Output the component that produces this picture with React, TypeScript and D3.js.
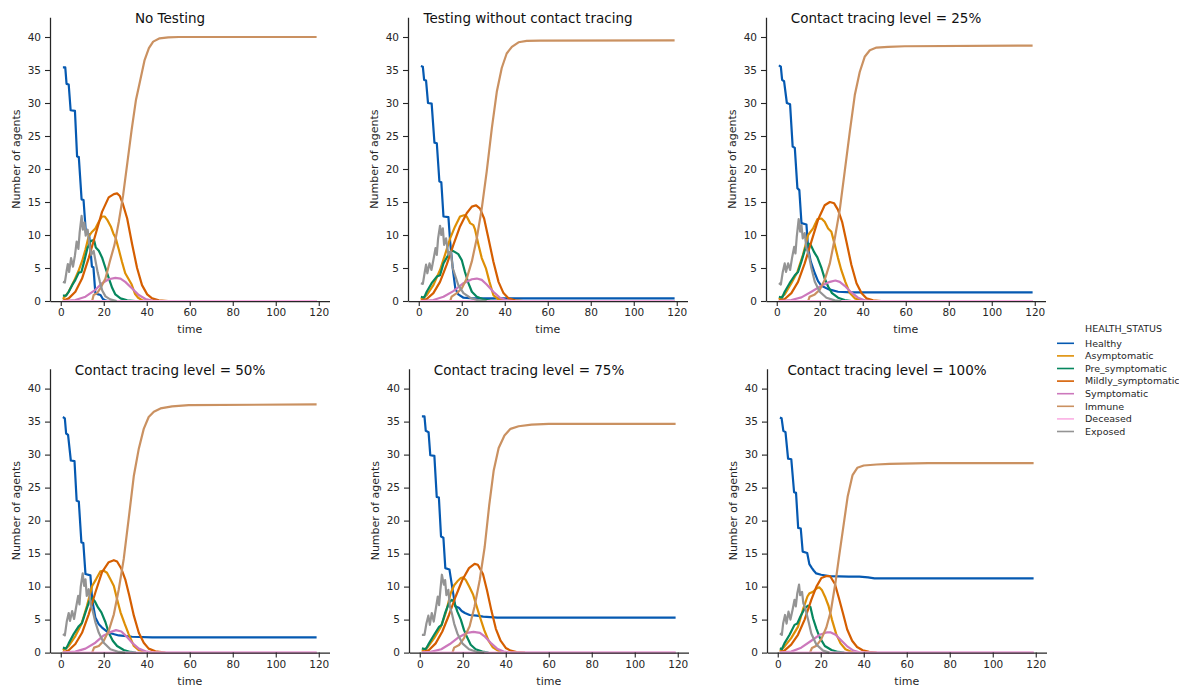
import { useEffect, useRef } from 'react'
import * as d3 from 'd3'

type Pt = [number, number]

// legend order = drawing order
const statuses = [
  'Healthy',
  'Asymptomatic',
  'Pre_symptomatic',
  'Mildly_symptomatic',
  'Symptomatic',
  'Immune',
  'Deceased',
  'Exposed',
]
const statusColors = ['#0559b1', '#de8f05', '#06875e', '#d55e00', '#cc78bc', '#ca9161', '#fbafe4', '#949494']

const panelTitles = [
  'No Testing',
  'Testing without contact tracing',
  'Contact tracing level = 25%',
  'Contact tracing level = 50%',
  'Contact tracing level = 75%',
  'Contact tracing level = 100%',
]
const xTicks = [0, 20, 40, 60, 80, 100, 120]
const yTicks = [0, 5, 10, 15, 20, 25, 30, 35, 40]

// [time, number of agents]
const deceased: Pt[] = [[1, 0], [119, 0]]

// --- No Testing
const noTestHealthy: Pt[] = [[1, 35.4], [2.1, 35.4], [2.7, 32.9], [3.7, 32.8], [4.6, 28.9], [6.6, 28.8], [7.6, 21.9], [8.4, 21.8], [9.7, 15.4], [10.6, 15.3], [11.7, 10.3], [13.2, 10.1], [14.5, 5.2], [15.2, 5.1], [16.1, 1.2], [17.5, 1.0], [18.5, 0.9], [19.6, 0.3], [21, 0.05], [22, 0]]
const noTestAsym: Pt[] = [[1, 0.3], [3.5, 1.3], [6, 2.9], [8.2, 4.5], [10, 6.1], [11.5, 7.8], [13, 9.8], [14.6, 10.5], [16.1, 11], [17.7, 12], [19.2, 12.8], [20.5, 12.8], [21.8, 12.2], [23.4, 11.2], [24.5, 10.2], [25.5, 9.6], [27, 7.8], [28.5, 5.9], [30, 4.2], [31.6, 3.3], [33, 2.5], [34.5, 1.1], [36, 0.5], [38, 0.1], [41, 0]]
const noTestPre: Pt[] = [[1, 0.8], [2.5, 0.8], [3.7, 1.4], [5.3, 2.4], [6.8, 3.2], [8.4, 4.3], [9.6, 4.4], [10.9, 6], [12.4, 8], [13.8, 9], [14.6, 9.2], [15.6, 9.1], [16.3, 8.1], [17.7, 7.6], [19.2, 6.6], [20.8, 5], [22.3, 3.5], [23.9, 2], [25.4, 1.0], [27.8, 0.4], [30.9, 0.1], [34.7, 0]]
const noTestMild: Pt[] = [[1, 0.05], [3.7, 0.4], [6.8, 1.4], [9.9, 3.4], [13, 6.5], [16.1, 10], [19.2, 13.5], [22.3, 15.7], [24.7, 16.2], [26.2, 16.3], [27.5, 15.9], [28.8, 14.8], [30.9, 12.5], [33.2, 8.6], [35.5, 5], [37.8, 2.4], [40.2, 1.0], [42.5, 0.4], [45.6, 0.1], [50, 0]]
const noTestSym: Pt[] = [[1, 0], [6.8, 0.15], [11.5, 0.65], [16.1, 1.7], [19.2, 2.7], [22.3, 3.3], [25.4, 3.5], [27.8, 3.4], [30, 2.9], [33.2, 1.9], [36.3, 0.9], [39.4, 0.3], [42.5, 0.05], [46, 0], [119, 0]]
const noTestImmune: Pt[] = [[14.6, 0], [15.3, 0.9], [16.9, 1.2], [18.4, 1.9], [20.8, 3.4], [23, 6.2], [25, 8.5], [27, 12], [29, 16], [31, 21], [33, 26], [35, 30.5], [37, 33.5], [39, 36.5], [41, 38.3], [43, 39.3], [46, 39.8], [50, 39.95], [55, 40], [119, 40]]
const noTestExposed: Pt[] = [[1, 2.9], [1.9, 2.8], [2.7, 4.5], [3.3, 5.6], [3.9, 4.4], [4.8, 6.5], [5.7, 5.2], [6.6, 6.9], [7.4, 9], [8.2, 7.9], [8.8, 10.4], [9.7, 12.9], [10.3, 10.8], [11, 11.9], [11.6, 9.9], [12.5, 10.8], [13.2, 8.9], [14.2, 7.0], [15.3, 7.6], [16.2, 6.0], [17.2, 4.3], [18.2, 2.9], [19.3, 1.6], [20.8, 0.7], [23, 0.25], [26, 0]]

// --- Testing without contact tracing
const testOnlyHealthy: Pt[] = [[1, 35.6], [1.9, 35.5], [2.5, 33.5], [3.4, 33.4], [4.3, 30], [6, 29.9], [7.3, 24], [8.4, 23.9], [9.6, 18.1], [10.5, 18], [11.5, 12.8], [13.8, 12.7], [14.6, 9], [15.8, 5], [17, 1.9], [18.4, 1], [20.8, 0.5], [25.4, 0.4], [119, 0.4]]
const testOnlyAsym: Pt[] = [[1, 0.25], [3.7, 0.9], [6.8, 2.4], [9.9, 4.7], [12.2, 7], [14.6, 9.5], [16.9, 11.3], [19.2, 12.8], [21.1, 13], [22.3, 12.8], [23.9, 11.8], [25.4, 11.5], [26.2, 10.8], [27.8, 8.5], [29.3, 6.5], [31.3, 4.9], [32.9, 2.9], [34.7, 0.9], [37.1, 0.25], [40.9, 0]]
const testOnlyPre: Pt[] = [[1, 0.65], [2.5, 0.5], [3.7, 1.4], [6, 2.7], [8.4, 3.7], [9.9, 3.9], [11.5, 5.7], [13.8, 7], [15.3, 7.7], [16.9, 7.4], [18.4, 7.1], [20, 6.2], [21.5, 4.4], [23.1, 2.7], [24.7, 1.4], [27, 0.65], [30, 0.25], [33.2, 0.05], [36.3, 0]]
const testOnlyMild: Pt[] = [[1, 0.05], [3.7, 0.3], [6.8, 1.2], [9.9, 2.9], [13, 5.5], [16.1, 8.5], [19.2, 11.3], [22.3, 13.3], [24.7, 14.3], [26.7, 14.5], [28.5, 14], [30.4, 12.5], [32.4, 9.5], [34.7, 6], [37.1, 2.9], [39.4, 1.2], [41.7, 0.4], [44.8, 0.1], [48.7, 0]]
const testOnlySym: Pt[] = [[1, 0], [6.8, 0.15], [11.5, 0.65], [16.1, 1.5], [20.8, 2.7], [24.7, 3.3], [27, 3.4], [29.3, 3.2], [31.6, 2.5], [34.7, 1.4], [37.8, 0.5], [40.9, 0.1], [44, 0], [119, 0]]
const testOnlyImmune: Pt[] = [[14.6, 0], [15.3, 0.65], [17.7, 1.2], [20, 1.9], [22.3, 3.4], [24.7, 6], [27, 9.5], [29.3, 14], [31.6, 19.6], [34, 26.2], [36.3, 31.7], [38.6, 35.3], [40.9, 37.5], [43.3, 38.5], [46.4, 39.2], [50.2, 39.4], [56.4, 39.45], [119, 39.5]]
const testOnlyExposed: Pt[] = [[1, 2.7], [1.9, 2.6], [2.8, 4.4], [3.4, 5.5], [4, 4.2], [5, 5.7], [5.9, 4.7], [6.8, 6.2], [7.8, 8], [8.4, 7], [9, 9.5], [9.9, 11.4], [10.5, 10], [11.2, 11], [11.8, 8.5], [12.7, 9.5], [13.8, 7], [14.9, 7.5], [15.8, 5], [16.9, 3.9], [18.4, 2.4], [20.8, 1.2], [23.9, 0.5], [27.8, 0.1], [31.6, 0]]

// --- Contact tracing 25%
const trace25Healthy: Pt[] = [[1, 35.7], [1.9, 35.5], [2.5, 33.5], [3.4, 33.3], [4.7, 30], [6.2, 29.8], [7.4, 23.4], [8.4, 23.2], [9.6, 17.1], [10.5, 16.8], [11.5, 11.8], [13.8, 11.6], [14.6, 8], [15.8, 6], [17.7, 4.2], [19.2, 3], [20.8, 2.3], [23.9, 1.8], [28.5, 1.4], [34.7, 1.3], [119, 1.3]]
const trace25Asym: Pt[] = [[1, 0.25], [3.7, 1], [6.8, 2.7], [9.6, 4.4], [12.2, 7], [14.6, 10], [16.9, 11], [18.9, 12.4], [20.8, 12.5], [22.3, 12], [23.9, 11], [25.4, 10.5], [27, 8.5], [28.5, 6.5], [30, 4.7], [31.9, 2.9], [34, 1.2], [36.3, 0.4], [39.4, 0.1], [42.5, 0]]
const trace25Pre: Pt[] = [[1, 0.65], [2.5, 0.5], [3.7, 1.4], [6, 2.7], [8.4, 3.9], [9.9, 4.4], [11.5, 6], [13.3, 8], [14.9, 8.7], [15.8, 8.5], [17.4, 7.4], [18.9, 6.6], [20.8, 5], [22.3, 3.4], [23.9, 2.2], [25.7, 1.2], [28.5, 0.5], [31.6, 0.15], [34.7, 0]]
const trace25Mild: Pt[] = [[1, 0.05], [3.7, 0.3], [6.8, 1.2], [9.9, 2.9], [13, 5.7], [16.1, 9], [19.2, 12.3], [22.3, 14.5], [24.7, 15], [26.7, 14.8], [28.5, 13.8], [30.4, 12], [32.4, 9], [34.7, 5.5], [37.1, 2.7], [39.4, 1.2], [41.7, 0.4], [44.8, 0.1], [48.7, 0]]
const trace25Sym: Pt[] = [[1, 0], [6.8, 0.15], [11.5, 0.55], [16.1, 1.4], [20.8, 2.3], [24.7, 2.9], [27.3, 3.1], [29.3, 2.9], [31.6, 2.3], [34.7, 1.3], [37.8, 0.5], [40.9, 0.1], [44, 0], [119, 0]]
const trace25Immune: Pt[] = [[14.6, 0], [15.3, 0.65], [17.7, 1], [20, 1.7], [22.3, 3.2], [24.7, 5.7], [27, 9.5], [29.3, 13.8], [31.6, 19.6], [34, 25.7], [36.3, 31.2], [38.6, 34.7], [40.9, 37], [43.3, 38], [46.4, 38.4], [51.8, 38.5], [59.5, 38.6], [119, 38.7]]
const trace25Exposed: Pt[] = [[1, 2.7], [1.9, 2.5], [2.8, 4.4], [3.7, 5.7], [4.3, 4.4], [5.3, 5.7], [6.2, 4.7], [7.1, 6.5], [8.1, 8.2], [8.7, 7.2], [9.3, 9.7], [10.2, 12.4], [10.9, 10.5], [11.5, 11.5], [12.1, 9.5], [13, 10.3], [13.8, 8], [14.9, 7], [16.1, 5], [17.7, 2.9], [20, 1.4], [23.1, 0.5], [27, 0.1], [30, 0]]

// --- Contact tracing 50%
const trace50Healthy: Pt[] = [[1, 35.7], [1.9, 35.5], [2.5, 33.2], [3.4, 33], [4.7, 29.1], [6.4, 29], [7.4, 23], [8.4, 22.9], [9.6, 16.7], [10.5, 16.6], [11.5, 11.9], [13.8, 11.7], [14.6, 8.1], [16.1, 5.3], [17.7, 4.3], [19.2, 3.8], [22.3, 3], [27, 2.6], [33.2, 2.4], [42.5, 2.3], [119, 2.3]]
const trace50Asym: Pt[] = [[1, 0.35], [3.7, 1], [6.8, 2.5], [9.6, 4.3], [12.2, 7.1], [14.6, 10.1], [16.4, 11.1], [18.4, 12.3], [20, 12.4], [21.5, 12.1], [23.1, 11.1], [24.7, 10.1], [26.2, 8.1], [27.8, 6.1], [29.8, 4.3], [31.6, 2.8], [34, 1], [36.3, 0.35], [39.4, 0.1], [42.5, 0]]
const trace50Pre: Pt[] = [[1, 0.75], [2.5, 0.6], [3.7, 1.4], [6, 2.8], [8.4, 4], [9.9, 4.5], [11.5, 6.1], [13.3, 7.8], [14.6, 8.3], [15.8, 7.8], [17.4, 6.8], [18.9, 6.1], [20.8, 4.6], [22.3, 3], [24.2, 1.8], [26.2, 1], [29.3, 0.4], [32.4, 0.1], [35, 0]]
const trace50Mild: Pt[] = [[1, 0], [3.7, 0.35], [6.8, 1.3], [9.9, 3], [13, 5.8], [16.1, 9.1], [19.2, 12.2], [22.3, 13.7], [24.7, 14], [26.2, 13.8], [28.2, 12.7], [30, 11.1], [31.9, 8.6], [34, 5.6], [36.3, 3], [38.6, 1.5], [40.9, 0.6], [44, 0.2], [48.7, 0]]
const trace50Sym: Pt[] = [[1, 0], [6.8, 0.15], [11.5, 0.6], [16.1, 1.5], [20, 2.6], [23.1, 3.1], [25.7, 3.4], [28.2, 3.2], [30.4, 2.5], [33.2, 1.5], [36.3, 0.6], [39.4, 0.2], [42.5, 0], [119, 0]]
const trace50Immune: Pt[] = [[14.6, 0], [15.5, 0.75], [17.7, 1], [20, 1.8], [22.3, 3.3], [24.7, 5.8], [27, 9.6], [29.3, 14.2], [31.6, 20.3], [34, 26.8], [36.3, 30.9], [38.6, 33.9], [40.9, 35.7], [43.3, 36.5], [46.4, 37], [51.8, 37.3], [59.5, 37.5], [119, 37.6]]
const trace50Exposed: Pt[] = [[1, 2.8], [1.9, 2.6], [2.8, 4.7], [3.7, 6], [4.3, 4.8], [5.3, 6.3], [6.2, 5.1], [7.1, 6.8], [8.1, 8.6], [8.7, 7.3], [9.3, 10], [10.2, 12], [10.9, 10.1], [11.5, 11.1], [12.1, 8.6], [13, 9.6], [14, 7.1], [14.9, 6.3], [16.1, 4.6], [17.7, 3], [20, 1.5], [23.1, 0.5], [27, 0.1], [30, 0]]

// --- Contact tracing 75%
const trace75Healthy: Pt[] = [[1, 35.8], [2.2, 35.8], [2.8, 33.6], [4.1, 33.4], [4.9, 29.9], [6.8, 29.8], [7.9, 23.6], [8.9, 23.5], [9.9, 17.6], [11, 17.4], [11.9, 12.8], [13.8, 12.6], [15.2, 9.7], [16.5, 7], [18.2, 6.8], [19.5, 6.3], [21, 6], [23.2, 5.7], [26.5, 5.6], [29.5, 5.45], [36, 5.3], [119, 5.3]]
const trace75Asym: Pt[] = [[1, 0.25], [3.6, 0.8], [6.7, 2.2], [9.8, 3.9], [12.1, 6], [14.4, 9], [16, 10.2], [17.5, 10.8], [19.1, 11.3], [20.2, 11.4], [21.4, 11], [23, 10], [24.8, 8.8], [26.3, 7.2], [28, 5.4], [30, 3.4], [32, 1.8], [34, 0.8], [36.9, 0.2], [40, 0]]
const trace75Pre: Pt[] = [[1, 0.65], [2.8, 0.5], [4.3, 1.4], [6.7, 2.7], [9, 3.9], [10.2, 4.2], [11.8, 6], [13.6, 7.5], [14.9, 8], [16, 7.7], [17.5, 6.2], [19.1, 5], [20.6, 3.4], [22.2, 2.2], [23.7, 1.2], [26, 0.5], [29.1, 0.15], [32, 0]]
const trace75Mild: Pt[] = [[1, 0.05], [4.3, 0.4], [7.4, 1.4], [10.5, 3.2], [13.6, 5.7], [16.7, 8.5], [19.8, 11], [22.9, 12.8], [25.5, 13.45], [27, 13.3], [29.4, 11.9], [31.3, 9.4], [33.3, 6.4], [35.4, 3.6], [37.6, 1.8], [40, 0.7], [42.3, 0.3], [45, 0.08], [49, 0]]
const trace75Sym: Pt[] = [[1, 0], [5, 0.1], [10, 0.5], [14, 1.3], [18, 2.3], [22, 3], [25, 3.15], [28, 3], [30, 2.5], [33, 1.5], [36, 0.6], [39, 0.15], [42, 0], [119, 0]]
const trace75Immune: Pt[] = [[15.2, 0], [16, 0.75], [18.3, 1.15], [20.6, 2.2], [23.2, 4], [25.5, 7], [27.9, 11], [30.2, 16], [32.3, 22.3], [34.4, 27.6], [36.7, 31], [39.4, 32.9], [42.2, 33.9], [46, 34.3], [52, 34.55], [60, 34.65], [119, 34.65]]
const trace75Exposed: Pt[] = [[1, 2.7], [2.2, 2.7], [3.1, 4.4], [4, 5.6], [4.7, 4.2], [5.6, 6], [6.5, 4.7], [7.4, 6.5], [8.4, 8.5], [9, 7.2], [9.6, 9.5], [10.3, 11.8], [11.2, 10.3], [11.8, 11], [12.4, 8.7], [13.3, 9.5], [14, 7], [14.9, 6], [16, 4.4], [17.5, 2.9], [19.8, 1.4], [22.9, 0.5], [26.8, 0.1], [30, 0]]

// --- Contact tracing 100%
const trace100Healthy: Pt[] = [[1, 35.6], [1.8, 35.5], [2.6, 33.6], [3.6, 33.4], [4.8, 29.4], [6.3, 29.3], [7.6, 24.3], [8.5, 24.2], [9.5, 18.9], [10.7, 18.8], [11.6, 15.3], [13.7, 15.1], [14.7, 13.4], [15.9, 12.8], [16.8, 12.4], [17.9, 12], [20.2, 11.8], [24, 11.6], [33, 11.5], [38, 11.5], [42, 11.4], [45, 11.25], [119, 11.25]]
const trace100Asym: Pt[] = [[1, 0.25], [3.1, 0.9], [6.25, 2.2], [9.4, 3.9], [11.7, 6.5], [13.8, 8.5], [14.8, 9], [16.4, 9.2], [18, 9.7], [19.3, 9.9], [20.5, 9.5], [22.2, 8.3], [23.6, 7.1], [25.2, 5], [27.2, 2.8], [29.2, 1.4], [31.5, 0.5], [34.4, 0.1], [37, 0]]
const trace100Pre: Pt[] = [[1, 0.65], [1.9, 0.5], [3.1, 1.4], [5.5, 2.7], [7.8, 4.2], [9.1, 4.4], [10.6, 5.5], [12.5, 6.7], [14.1, 7.1], [15.2, 6.9], [16.4, 5.2], [18, 3.6], [19.5, 2.3], [21.9, 1], [25, 0.4], [28.1, 0.1], [31, 0]]
const trace100Mild: Pt[] = [[1, 0.05], [3.1, 0.3], [6.25, 1.2], [9.4, 2.7], [12.5, 5], [15.6, 8], [18, 10], [20.3, 11.3], [22.7, 11.6], [24.3, 11.6], [26.6, 10.4], [28.4, 8.3], [30.3, 6], [32.3, 3.5], [34.6, 1.8], [36.9, 0.85], [39.5, 0.35], [42.5, 0.1], [46, 0]]
const trace100Sym: Pt[] = [[1, 0], [6.25, 0.15], [10.9, 0.75], [15.6, 1.8], [19.5, 2.7], [22.7, 3.05], [24.7, 3.05], [26.9, 2.7], [29.7, 1.8], [32.5, 0.9], [35.2, 0.3], [38, 0.05], [40, 0], [119, 0]]
const trace100Immune: Pt[] = [[15, 0], [15.9, 0.7], [18, 1.05], [20.2, 2], [22.6, 3.8], [24.7, 6.3], [26.8, 10.5], [28.5, 14.5], [30.3, 18.6], [32.5, 23.6], [34.8, 26.9], [37, 28], [40, 28.35], [46, 28.5], [52, 28.6], [70, 28.7], [119, 28.7]]
const trace100Exposed: Pt[] = [[1, 2.9], [1.9, 2.7], [2.5, 4.4], [3.4, 5.7], [4.1, 4.4], [5, 6.2], [5.9, 5], [6.9, 6.5], [7.8, 8], [8.4, 7], [9.1, 9], [9.9, 10.3], [10.4, 8.7], [11.3, 9.2], [11.9, 7.5], [12.8, 6.7], [14.1, 5], [15.6, 2.9], [18, 1.2], [21.1, 0.3], [24, 0]]

const panelSeries: Pt[][][] = [
  [noTestHealthy, noTestAsym, noTestPre, noTestMild, noTestSym, noTestImmune, deceased, noTestExposed],
  [testOnlyHealthy, testOnlyAsym, testOnlyPre, testOnlyMild, testOnlySym, testOnlyImmune, deceased, testOnlyExposed],
  [trace25Healthy, trace25Asym, trace25Pre, trace25Mild, trace25Sym, trace25Immune, deceased, trace25Exposed],
  [trace50Healthy, trace50Asym, trace50Pre, trace50Mild, trace50Sym, trace50Immune, deceased, trace50Exposed],
  [trace75Healthy, trace75Asym, trace75Pre, trace75Mild, trace75Sym, trace75Immune, deceased, trace75Exposed],
  [trace100Healthy, trace100Asym, trace100Pre, trace100Mild, trace100Sym, trace100Immune, deceased, trace100Exposed],
]

const W = 1179
const H = 689
const FONT = '"DejaVu Sans", sans-serif'
const INK = '#262626'

// panel placement (left spine x, x axis y)
const panelLeft = [50, 408, 766, 50, 409, 767]
const panelBottom = [301, 301, 301, 652.6, 652.6, 652.6]
const plotW = 279.5
const plotH = 283.8

export default function App() {
  const svgRef = useRef<SVGSVGElement>(null)

  useEffect(() => {
    if (!svgRef.current) return
    const svg = d3.select(svgRef.current)
    svg.selectAll('*').remove()

    panelSeries.forEach((series, i) => {
      const left = panelLeft[i]
      const bottom = panelBottom[i]
      const g = svg.append('g').attr('transform', `translate(${left},${bottom - plotH})`)

      const x = d3.scaleLinear().domain([-5, 125]).range([0, plotW])
      const y = d3.scaleLinear().domain([0, 43]).range([plotH, 0])

      const line = d3
        .line<Pt>()
        .x(d => x(d[0]))
        .y(d => y(d[1]))

      series.forEach((data, k) => {
        g.append('path')
          .attr('d', line(data) as string)
          .attr('fill', 'none')
          .attr('stroke', statusColors[k])
          .attr('stroke-width', 2.2)
          .attr('stroke-linejoin', 'round')
      })

      // axes drawn above the lines, like matplotlib spines
      const xAxis = g
        .append('g')
        .attr('transform', `translate(0,${plotH})`)
        .call(d3.axisBottom(x).tickValues(xTicks).tickSize(5).tickSizeOuter(0).tickPadding(3))
      const yAxis = g
        .append('g')
        .call(d3.axisLeft(y).tickValues(yTicks).tickSize(5).tickSizeOuter(0).tickPadding(4))

      ;[xAxis, yAxis].forEach(ax => {
        ax.select('.domain').attr('stroke', INK).attr('stroke-width', 1.25)
        ax.selectAll('.tick line').attr('stroke', INK).attr('stroke-width', 1.1)
        ax.selectAll('text')
          .attr('fill', INK)
          .attr('font-size', '10.5px')
          .attr('font-family', FONT)
      })

      g.append('text')
        .attr('x', 120)
        .attr('y', 6)
        .attr('text-anchor', 'middle')
        .attr('font-family', FONT)
        .attr('font-size', '13.5px')
        .attr('fill', '#111')
        .text(panelTitles[i])

      g.append('text')
        .attr('x', plotW / 2)
        .attr('y', plotH + 32)
        .attr('text-anchor', 'middle')
        .attr('font-family', FONT)
        .attr('font-size', '11px')
        .attr('fill', INK)
        .text('time')

      g.append('text')
        .attr('transform', `translate(-30,${plotH / 2}) rotate(-90)`)
        .attr('text-anchor', 'middle')
        .attr('font-family', FONT)
        .attr('font-size', '11px')
        .attr('fill', INK)
        .text('Number of agents')
    })

    // legend
    const legend = svg.append('g').attr('transform', 'translate(1057,329)')
    legend
      .append('text')
      .attr('x', 28)
      .attr('y', 0)
      .attr('dy', '0.35em')
      .attr('font-family', FONT)
      .attr('font-size', '9.5px')
      .attr('fill', INK)
      .text('HEALTH_STATUS')

    statuses.forEach((name, k) => {
      const yy = 14.3 + k * 12.6
      legend
        .append('line')
        .attr('x1', 0)
        .attr('x2', 17)
        .attr('y1', yy)
        .attr('y2', yy)
        .attr('stroke', statusColors[k])
        .attr('stroke-width', 1.6)
      legend
        .append('text')
        .attr('x', 28)
        .attr('y', yy)
        .attr('dy', '0.35em')
        .attr('font-family', FONT)
        .attr('font-size', '9.5px')
        .attr('fill', INK)
        .text(name)
    })
  }, [])

  return (
    <svg
      ref={svgRef}
      width={W}
      height={H}
      style={{ position: 'absolute', left: 0, top: 0, background: '#fff' }}
    />
  )
}
